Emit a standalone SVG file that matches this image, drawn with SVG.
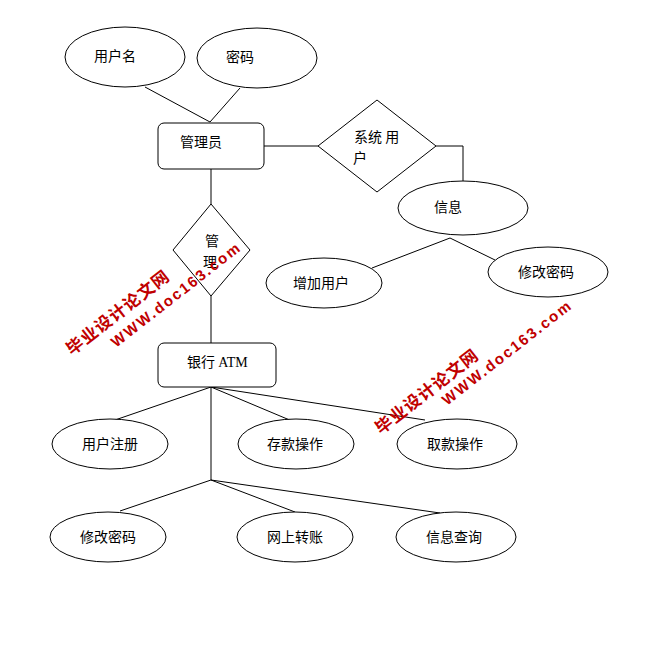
<svg xmlns="http://www.w3.org/2000/svg" width="645" height="646" viewBox="0 0 645 646">
<style>
.s{fill:#fff;stroke:#000;stroke-width:1}
.l{stroke:#000;stroke-width:1;fill:none}
text{font-family:"Noto Sans CJK SC","Liberation Serif",sans-serif;font-size:14px;fill:#000}
.c{text-anchor:middle}
.w{font-family:"Liberation Sans","Noto Sans CJK SC",sans-serif;font-weight:bold;fill:#c00000;font-size:15px}
.wc{font-size:17px;letter-spacing:1px}
</style>
<rect width="645" height="646" fill="#fff"/>
<g id="connectors">
<path class="l" d="M145,87 L210,122 M240,88 L210,122"/>
<path class="l" d="M264,146 L318,146 M436,146 L463,146 L463,181"/>
<path class="l" d="M450,238 L372,268 M450,238 L495,260"/>
<path class="l" d="M211,169 L211,204 M211,296 L211,343"/>
<path class="l" d="M211,387 L115,420 M211,387 L292,421 M211,387 L425,420 M211,387 L211,480"/>
<path class="l" d="M211,480 L120,511 M211,480 L295,512 M211,480 L440,513"/>
</g>
<g id="n_username"><ellipse class="s" cx="125" cy="57" rx="60" ry="30"/><text class="c" x="115" y="61">用户名</text></g>
<g id="n_password"><ellipse class="s" cx="257" cy="58" rx="60" ry="30"/><text class="c" x="240" y="62">密码</text></g>
<g id="n_admin"><rect class="s" x="158" y="123" width="106" height="46" rx="6"/><text class="c" x="201" y="147">管理员</text></g>
<g id="n_sysuser"><polygon class="s" points="318,146 377,100 436,146 377,192"/><text x="354" y="142">系统 用</text><text x="353" y="163">户</text></g>
<g id="n_info"><ellipse class="s" cx="463" cy="208" rx="65" ry="27"/><text class="c" x="448" y="212">信息</text></g>
<g id="n_adduser"><ellipse class="s" cx="324" cy="283" rx="58" ry="25"/><text class="c" x="321" y="288">增加用户</text></g>
<g id="n_chgpwd1"><ellipse class="s" cx="548" cy="272" rx="60" ry="25"/><text class="c" x="546" y="277">修改密码</text></g>
<g id="n_manage"><polygon class="s" points="211,204 250,250 211,296 173,250"/><text x="205" y="246">管</text><text x="203" y="267">理</text></g>
<g id="n_atm"><rect class="s" x="158" y="343" width="118" height="44" rx="6"/><text x="187" y="367">银行 <tspan font-family="Liberation Serif">ATM</tspan></text></g>
<g id="n_register"><ellipse class="s" cx="110" cy="444" rx="58" ry="25"/><text class="c" x="110" y="449">用户注册</text></g>
<g id="n_deposit"><ellipse class="s" cx="296" cy="444" rx="58" ry="25"/><text class="c" x="295" y="449">存款操作</text></g>
<g id="n_withdraw"><ellipse class="s" cx="457" cy="444" rx="60" ry="25"/><text class="c" x="455" y="449">取款操作</text></g>
<g id="n_chgpwd2"><ellipse class="s" cx="108" cy="537" rx="58" ry="25"/><text class="c" x="108" y="542">修改密码</text></g>
<g id="n_transfer"><ellipse class="s" cx="295" cy="537" rx="58" ry="25"/><text class="c" x="295" y="542">网上转账</text></g>
<g id="n_query"><ellipse class="s" cx="456" cy="537" rx="60" ry="25"/><text class="c" x="454" y="542">信息查询</text></g>
<g id="watermarks">
<text class="w wc" transform="translate(72,356) rotate(-38)">毕业设计论文网</text>
<text class="w" transform="translate(116,348) rotate(-38)" letter-spacing="2">WWW.doc163.com</text>
<text class="w wc" transform="translate(381,435) rotate(-38)">毕业设计论文网</text>
<text class="w" transform="translate(447,406) rotate(-38)" letter-spacing="2">WWW.doc163.com</text>
</g>
</svg>
